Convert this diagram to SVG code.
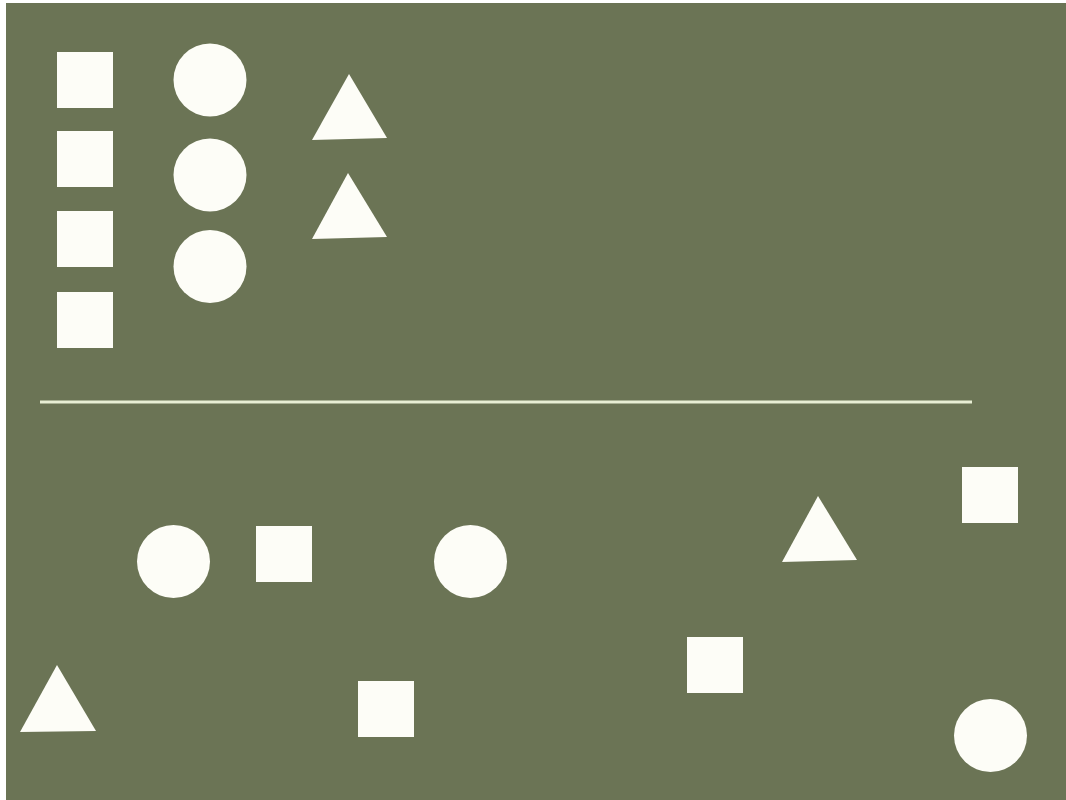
<svg xmlns="http://www.w3.org/2000/svg" width="1066" height="800" viewBox="0 0 1066 800">
<style>
.s{fill:#fdfdf7}
</style>
<rect x="0" y="0" width="1066" height="800" fill="#ffffff"/>
<rect x="6" y="3" width="1060" height="797" fill="#6b7455"/>
<g id="top">
<rect class="s" x="57" y="52" width="56" height="56"/>
<rect class="s" x="57" y="131" width="56" height="56"/>
<rect class="s" x="57" y="211" width="56" height="56"/>
<rect class="s" x="57" y="292" width="56" height="56"/>
<circle class="s" cx="210" cy="80" r="36.5"/>
<circle class="s" cx="210" cy="175" r="36.5"/>
<circle class="s" cx="210" cy="266.5" r="36.5"/>
<polygon class="s" points="349,74 312,140 387,138"/>
<polygon class="s" points="348,173 312,239 387,237"/>
</g>
<line x1="40" y1="402" x2="972" y2="402" stroke="#e8eed4" stroke-width="3"/>
<g id="bottom">
<circle class="s" cx="173.5" cy="561.5" r="36.5"/>
<rect class="s" x="256" y="526" width="56" height="56"/>
<circle class="s" cx="470.5" cy="561.5" r="36.5"/>
<polygon class="s" points="818,496 782,562 857,560"/>
<rect class="s" x="962" y="467" width="56" height="56"/>
<rect class="s" x="687" y="637" width="56" height="56"/>
<rect class="s" x="358" y="681" width="56" height="56"/>
<polygon class="s" points="57,665 20,732 96,731"/>
<circle class="s" cx="990.5" cy="735.5" r="36.5"/>
</g>
</svg>
